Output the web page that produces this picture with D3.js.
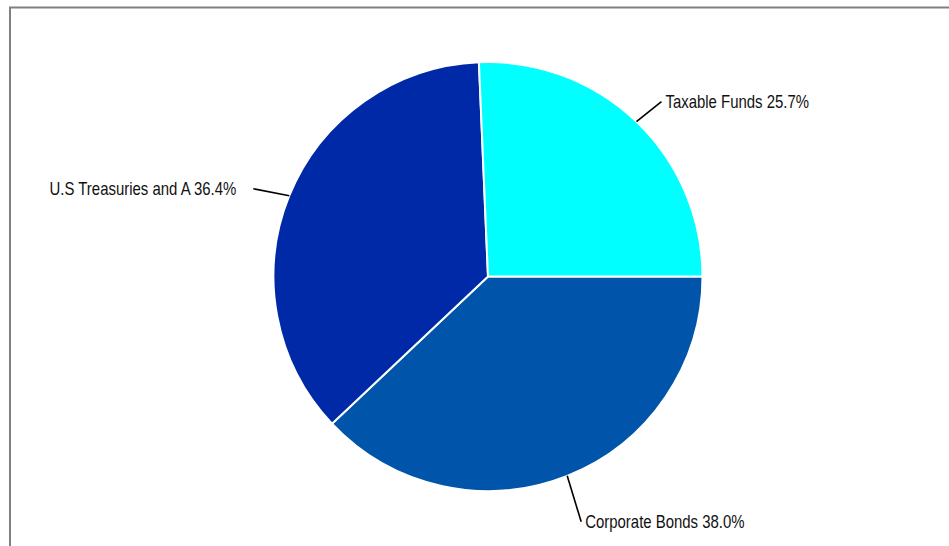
<!DOCTYPE html>
<html>
<head>
<meta charset="utf-8">
<script src="https://cdn.jsdelivr.net/npm/d3@7"></script>
<style>
  html, body { margin: 0; padding: 0; background: #fff; }
  svg { display: block; }
  .label { font-family: "Liberation Sans", Arial, sans-serif; font-size: 18px; fill: #111; }
</style>
</head>
<body>
<div id="chart"></div>
<script>
// slices in drawing order, clockwise from 3 o'clock
const categories = ['Corporate Bonds', 'U.S Treasuries and A', 'Taxable Funds'];
const shares = [38.0, 36.4, 25.7];
const colors = ['#0055AA', '#0029A8', '#00FFFF'];
// leader line end, relative to where the line leaves the rim
const leaderOffset = [[14, 46], [-36, -7], [25, -20]];

const width = 949;
const height = 546;
const cx = 488;
const cy = 276.5;
const radius = 214.5;
const narrow = 0.83; // the original uses a condensed face

const svg = d3.select('#chart')
    .append('svg')
    .attr('width', width)
    .attr('height', height);

// frame, cropped at right and bottom
svg.append('rect')
    .attr('x', 10)
    .attr('y', 7.5)
    .attr('width', width + 20)
    .attr('height', height + 20)
    .attr('fill', 'none')
    .attr('stroke', '#808080')
    .attr('stroke-width', 2);

const data = categories.map((c, i) => ({ name: c, value: shares[i], color: colors[i], offset: leaderOffset[i] }));

const pie = d3.pie()
    .sort(null)
    .value(d => d.value)
    .startAngle(Math.PI / 2)
    .endAngle(Math.PI / 2 + 2 * Math.PI);

const arc = d3.arc()
    .innerRadius(0)
    .outerRadius(radius);

const g = svg.append('g')
    .attr('transform', `translate(${cx}, ${cy})`);

const arcs = pie(data);

g.selectAll('path')
    .data(arcs)
    .enter()
    .append('path')
    .attr('d', arc)
    .attr('fill', d => d.data.color)
    .attr('stroke', '#fff')
    .attr('stroke-width', 2)
    .attr('stroke-linejoin', 'round');

arcs.forEach(d => {
    const mid = (d.startAngle + d.endAngle) / 2;
    const x0 = radius * Math.sin(mid);
    const y0 = -radius * Math.cos(mid);
    const x1 = x0 + d.data.offset[0];
    const y1 = y0 + d.data.offset[1];
    const right = x1 > x0;

    g.append('line')
        .attr('x1', x0)
        .attr('y1', y0)
        .attr('x2', x1)
        .attr('y2', y1)
        .attr('stroke', '#000')
        .attr('stroke-width', 1.6);

    g.append('text')
        .attr('class', 'label')
        .attr('transform', `translate(${x1 + (right ? 4 : -17)}, ${y1}) scale(${narrow}, 1)`)
        .attr('dy', '0.35em')
        .attr('text-anchor', right ? 'start' : 'end')
        .text(`${d.data.name} ${d.data.value.toFixed(1)}%`);
});
</script>
</body>
</html>
